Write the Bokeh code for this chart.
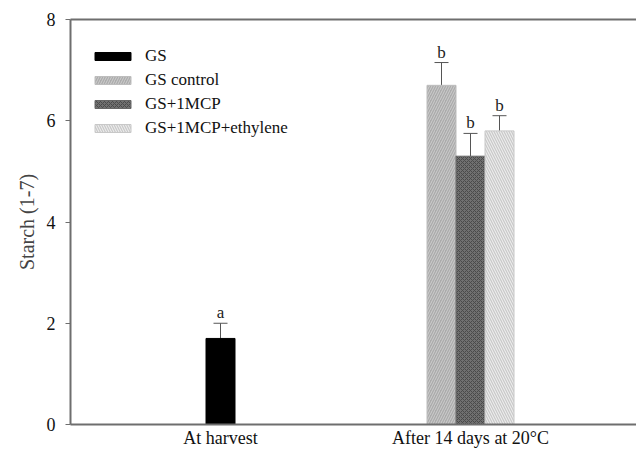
from bokeh.plotting import figure
from bokeh.models import (ColumnDataSource, LinearAxis, FixedTicker, Legend, LegendItem,
                          Whisker, TeeHead, Range1d)
from bokeh.embed import file_html
from bokeh.resources import INLINE
from bokeh.core.properties import value

# ---- data ----
categories = ["At harvest", "After 14 days at 20°C"]
series = ["GS", "GS control", "GS+1MCP", "GS+1MCP+ethylene"]
series_cat = [0, 1, 1, 1]          # which category each series belongs to
series_offset = [0, -1, 0, 1]      # slot within group
means = [1.7, 6.7, 5.3, 5.8]
errors = [0.3, 0.45, 0.45, 0.3]
letters = ["a", "b", "b", "b"]
y_ticks = [0, 2, 4, 6, 8]

# ---- styles ----
fills = ["#000000", "#ababab", "#707070", "#c9c9c9"]
hatches = [None, "/", "x", "\\"]
hatch_colors = ["#000000", "#cdcdcd", "#4a4a4a", "#f2f2f2"]
lines = ["#000000", "#bdbdbd", "#666666", "#c8c8c8"]
FONT = "Liberation Serif"
bar_w = 0.116

cat_pos = [1, 2]
xs = [cat_pos[c] + o * bar_w for c, o in zip(series_cat, series_offset)]
uppers = [m + e for m, e in zip(means, errors)]

p = figure(width=636, height=453, output_backend="svg", toolbar_location=None,
           x_range=Range1d(0.4, 2.664), y_range=Range1d(0, 8),
           min_border_left=70, min_border_right=0, min_border_top=19, min_border_bottom=29)
p.outline_line_color = None
p.xgrid.visible = False
p.ygrid.visible = False
p.background_fill_color = "white"
p.border_fill_color = "white"

items = []
for i in range(len(series)):
    src = ColumnDataSource(dict(x=[xs[i]], top=[means[i]]))
    kw = dict(x="x", top="top", bottom=0, width=bar_w, source=src,
              fill_color=fills[i], line_color=lines[i], line_width=1)
    if hatches[i]:
        kw.update(hatch_pattern=hatches[i], hatch_color=hatch_colors[i],
                  hatch_scale=5 if hatches[i] != "x" else 4, hatch_weight=1)
    r = p.vbar(**kw)
    items.append(LegendItem(label=series[i], renderers=[r]))

esrc = ColumnDataSource(dict(x=xs, lower=means, upper=uppers, letter=letters))
wh = Whisker(base="x", lower="lower", upper="upper", source=esrc, dimension="height",
             line_color="#555555", line_width=1,
             upper_head=TeeHead(size=14, line_color="#555555", line_width=1),
             lower_head=None)
p.add_layout(wh)
p.text(x="x", y="upper", text="letter", source=esrc, text_align="center",
       text_baseline="bottom", y_offset=-1, text_font=value(FONT),
       text_font_size="17px", text_color="#222222")

legend = Legend(items=items, location=(20, 286), orientation="vertical",
                glyph_width=45, glyph_height=10, label_height=20, spacing=4,
                label_standoff=10, padding=0, margin=0,
                border_line_color=None, background_fill_alpha=0,
                label_text_font=FONT, label_text_font_size="17px",
                label_text_color="#111111")
p.add_layout(legend)

# y axis
ya = p.yaxis[0]
ya.ticker = FixedTicker(ticks=y_ticks)
ya.axis_label = "Starch (1-7)"
ya.axis_label_text_font = FONT
ya.axis_label_text_font_style = "normal"
ya.axis_label_text_font_size = "20px"
ya.axis_label_standoff = 6
ya.major_label_text_font = FONT
ya.major_label_text_font_size = "18px"
ya.major_label_text_color = "#111111"
ya.axis_line_color = "#6e6e6e"
ya.axis_line_width = 2
ya.major_tick_line_color = "#6e6e6e"
ya.major_tick_out = 5
ya.major_tick_in = 0
ya.minor_tick_line_color = None
ya.major_label_standoff = 10

# x axis
xa = p.xaxis[0]
xa.ticker = FixedTicker(ticks=cat_pos)
xa.major_label_overrides = {cat_pos[i]: categories[i] for i in range(len(categories))}
xa.major_label_text_font = FONT
xa.major_label_text_font_size = "18px"
xa.major_label_text_color = "#111111"
xa.axis_line_color = "#6e6e6e"
xa.axis_line_width = 2
xa.major_tick_line_color = None
xa.major_tick_out = 0
xa.major_tick_in = 0
xa.minor_tick_line_color = None
xa.major_label_standoff = 3

# top frame line
top = LinearAxis(ticker=FixedTicker(ticks=[]), major_label_text_font_size="0px",
                 axis_line_color="#6e6e6e", axis_line_width=2,
                 major_tick_line_color=None, minor_tick_line_color=None,
                 major_tick_out=0, major_label_standoff=0)
p.add_layout(top, "above")

open("out.html", "w").write(file_html(p, INLINE))
